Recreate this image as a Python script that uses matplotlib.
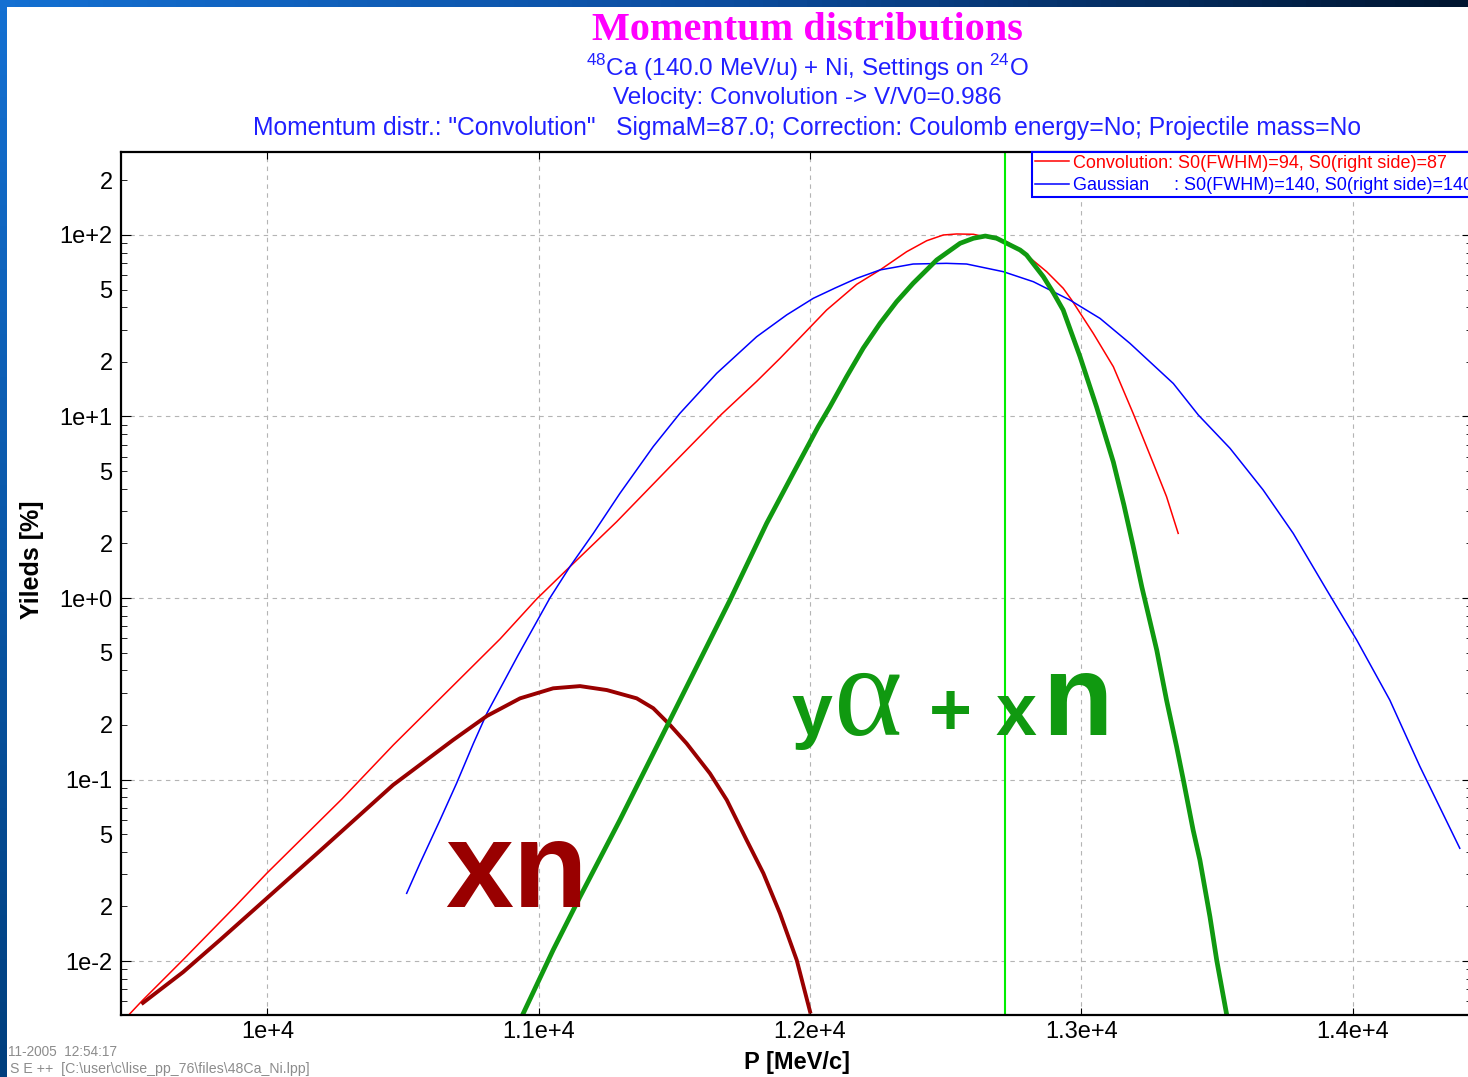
import numpy as np
import matplotlib
matplotlib.use("Agg")
import matplotlib.pyplot as plt
from matplotlib.ticker import LogLocator, FuncFormatter, FixedLocator, NullLocator

plt.rcParams['font.family'] = ['Liberation Sans', 'DejaVu Sans']
plt.rcParams['mathtext.fontset'] = 'custom'
plt.rcParams['mathtext.rm'] = 'Liberation Sans'

# momentum P [MeV/c] and yield [%]
conv_p = [9475, 9536, 9690, 9880, 9997, 10274, 10464, 10857, 10992, 11103, 11287, 11484,
          11674, 11803, 11889, 11957, 12061, 12172, 12258, 12356, 12430, 12491, 12540, 12602,
          12725, 12798, 12872, 12933, 12964, 13044, 13118, 13191, 13265, 13314, 13357]
conv_y = [0.0048, 0.0060, 0.0102, 0.0199, 0.0304, 0.078, 0.155, 0.594, 0.987, 1.43, 2.63, 5.29,
          10.3, 15.6, 20.9, 26.6, 38.6, 53.5, 64.2, 80.9, 93.0, 100.0, 101.3, 100.9,
          91.9, 77.6, 62.8, 50.9, 43.9, 28.7, 18.8, 10.4, 5.53, 3.62, 2.27]

gauss_p = [10513, 10562, 10636, 10697, 10759, 10809, 10924, 11041, 11115, 11201, 11299, 11422,
           11520, 11656, 11803, 11914, 12012, 12092, 12172, 12258, 12380, 12503, 12577, 12712,
           12823, 12958, 13069, 13179, 13339, 13431, 13548, 13670, 13781, 13904, 14015, 14137,
           14248, 14395]
gauss_y = [0.0236, 0.0345, 0.0598, 0.0953, 0.158, 0.232, 0.485, 1.0, 1.49, 2.27, 3.77, 6.83,
           10.4, 17.3, 27.5, 36.3, 44.8, 51.0, 57.7, 64.2, 69.2, 69.8, 69.2, 62.8,
           55.3, 43.8, 34.7, 25.3, 15.2, 10.2, 6.68, 3.94, 2.27, 1.11, 0.587, 0.274,
           0.118, 0.0418]

green_p = [10943, 11053, 11152, 11299, 11502, 11705, 11840, 11938, 12030, 12073, 12135, 12196,
           12258, 12319, 12380, 12467, 12553, 12602, 12646, 12688, 12774, 12798, 12860, 12897,
           12933, 12995, 13056, 13118, 13157, 13190, 13223, 13278, 13314, 13351, 13376, 13412,
           13437, 13474, 13499, 13536]
green_y = [0.00515, 0.0115, 0.0226, 0.0598, 0.241, 0.975, 2.58, 4.87, 8.79, 11.3, 16.6, 23.8,
           32.6, 42.9, 54.2, 72.9, 90.0, 95.9, 98.7, 95.9, 82.7, 77.6, 58.9, 48.0,
           38.6, 21.4, 11.3, 5.61, 3.25, 1.96, 1.15, 0.516, 0.274, 0.152, 0.0994, 0.0527,
           0.036, 0.01754, 0.0101, 0.00504]

xn_p = [9541, 9689, 9825, 9998, 10193, 10463, 10684, 10809, 10931, 11053, 11152, 11251,
        11361, 11422, 11484, 11545, 11631, 11693, 11766, 11828, 11889, 11951, 12000]
xn_y = [0.00588, 0.00869, 0.01306, 0.0222, 0.0404, 0.0933, 0.165, 0.224, 0.280, 0.318, 0.327, 0.311,
        0.280, 0.247, 0.1995, 0.158, 0.108, 0.0771, 0.0464, 0.0304, 0.0183, 0.0101, 0.00526]

v_line_p = 12718

x_ticks = [10000, 11000, 12000, 13000, 14000]
x_tick_labels = ["1e+4", "1.1e+4", "1.2e+4", "1.3e+4", "1.4e+4"]

legend_labels = ["Convolution: S0(FWHM)=94, S0(right side)=87",
                 "Gaussian     : S0(FWHM)=140, S0(right side)=140"]

W, H = 1468, 1077
fig = plt.figure(figsize=(W / 100, H / 100), dpi=100)


def fx(px):
    return px / W


def fy(py):
    return 1 - py / H


# blue slide frame on the left and top
left_strip = fig.add_axes([0, 0, fx(7), 1])
left_strip.imshow(np.linspace(0, 1, 100).reshape(-1, 1),
                  cmap=matplotlib.colors.LinearSegmentedColormap.from_list("l", ["#1470d2", "#003f7e"]),
                  aspect='auto', extent=[0, 1, 0, 1], origin='upper')
left_strip.axis('off')
top_strip = fig.add_axes([0, fy(7), 1, 7 / H])
top_strip.imshow(np.linspace(0, 1, 100).reshape(1, -1),
                 cmap=matplotlib.colors.LinearSegmentedColormap.from_list("t", ["#1470d2", "#0b4c9e", "#001530"]),
                 aspect='auto', extent=[0, 1, 0, 1])
top_strip.axis('off')

ax = fig.add_axes([fx(121), fy(1015), (1472 - 121) / W, (1015 - 152) / H])
ax.set_yscale('log')
ax.set_xlim(9460, 14440)
ax.set_ylim(0.005041, 286.6)

ax.grid(True, which='major', linestyle=(0, (4, 4)), color='#b4b4b4', linewidth=0.8)

l_conv, = ax.plot(conv_p, conv_y, color='#ff0000', lw=1.1)
l_gauss, = ax.plot(gauss_p, gauss_y, color='#0000ff', lw=1.1)
ax.plot(xn_p, xn_y, color='#990000', lw=2.8, solid_joinstyle='round')
ax.plot(green_p, green_y, color='#109910', lw=3.4, solid_joinstyle='round')
ax.axvline(v_line_p, color='#00ee00', lw=1.5)


def ylab(v, pos):
    e = int(np.floor(np.log10(v) + 1e-9))
    m = int(round(v / 10 ** e))
    if m == 1:
        return f"1e{e:+d}"
    if m in (2, 5):
        return str(m)
    return ""


ax.yaxis.set_major_locator(LogLocator(base=10, numticks=20))
ax.yaxis.set_minor_locator(LogLocator(base=10, subs=np.arange(2, 10), numticks=20))
ax.yaxis.set_major_formatter(FuncFormatter(ylab))
ax.yaxis.set_minor_formatter(FuncFormatter(ylab))
ax.xaxis.set_major_locator(FixedLocator(x_ticks))
ax.xaxis.set_minor_locator(NullLocator())
ax.set_xticklabels(x_tick_labels)

ax.tick_params(which='both', direction='in', top=True, right=True, labelsize=17, color='black')
ax.tick_params(axis='y', which='major', length=7, pad=6)
ax.tick_params(axis='y', which='minor', length=4, pad=6)
ax.tick_params(axis='x', which='major', length=5, pad=4)
for s in ax.spines.values():
    s.set_linewidth(1.6)

leg = ax.legend([l_conv, l_gauss], legend_labels, loc='upper left',
                bbox_to_anchor=(fx(1032), fy(152)), bbox_transform=fig.transFigure,
                fontsize=13, frameon=True, fancybox=False, edgecolor='#0000ff', framealpha=1,
                borderpad=0.15, borderaxespad=0, handlelength=1.9, handletextpad=0.2,
                labelspacing=0.3, labelcolor='linecolor')
leg.get_frame().set_linewidth(1.5)

# titles
fig.text(fx(807), fy(31), "Momentum distributions", ha='center', va='center', fontsize=29,
         fontweight='bold', family='Liberation Serif', color='#ff00ff')
sub_color = '#2020ff'
fig.text(fx(807), fy(68), r"$^{\mathrm{48}}$Ca (140.0 MeV/u) + Ni, Settings on $^{\mathrm{24}}$O",
         ha='center', va='center', fontsize=17.5, color=sub_color)
fig.text(fx(807), fy(98), "Velocity: Convolution -> V/V0=0.986",
         ha='center', va='center', fontsize=17.5, color=sub_color)
fig.text(fx(807), fy(128),
         'Momentum distr.: "Convolution"   SigmaM=87.0; Correction: Coulomb energy=No; Projectile mass=No',
         ha='center', va='center', fontsize=17.7, color=sub_color)

fig.text(fx(32), fy(560), "Yileds [%]", rotation=90, ha='center', va='center', fontsize=18, fontweight='bold')
fig.text(fx(797), fy(1062), "P [MeV/c]", ha='center', va='center', fontsize=17, fontweight='bold')

fig.text(fx(8), fy(1052), "11-2005  12:54:17", ha='left', va='center', fontsize=9.8, color='#8c8c8c')
fig.text(fx(10), fy(1069), r"S E ++  [C:\user\c\lise_pp_76\files\48Ca_Ni.lpp]", ha='left', va='center',
         fontsize=10.2, color='#8c8c8c')

# channel annotations
fig.text(fx(445), fy(907), "xn", ha='left', va='baseline', fontsize=88, fontweight='bold', color='#990000')
g = '#109910'
fig.text(fx(791), fy(735), "y", ha='left', va='baseline', fontsize=53, fontweight='bold', color=g)
fig.text(fx(834), fy(735), "α", ha='left', va='baseline', fontsize=94, family='Liberation Serif', color=g)
fig.text(fx(929), fy(735), "+", ha='left', va='baseline', fontsize=53, fontweight='bold', color=g)
fig.text(fx(996), fy(735), "x", ha='left', va='baseline', fontsize=53, fontweight='bold', color=g)
fig.text(fx(1042), fy(735), "n", ha='left', va='baseline', fontsize=83, fontweight='bold', color=g)

fig.savefig("out.png", dpi=100)
